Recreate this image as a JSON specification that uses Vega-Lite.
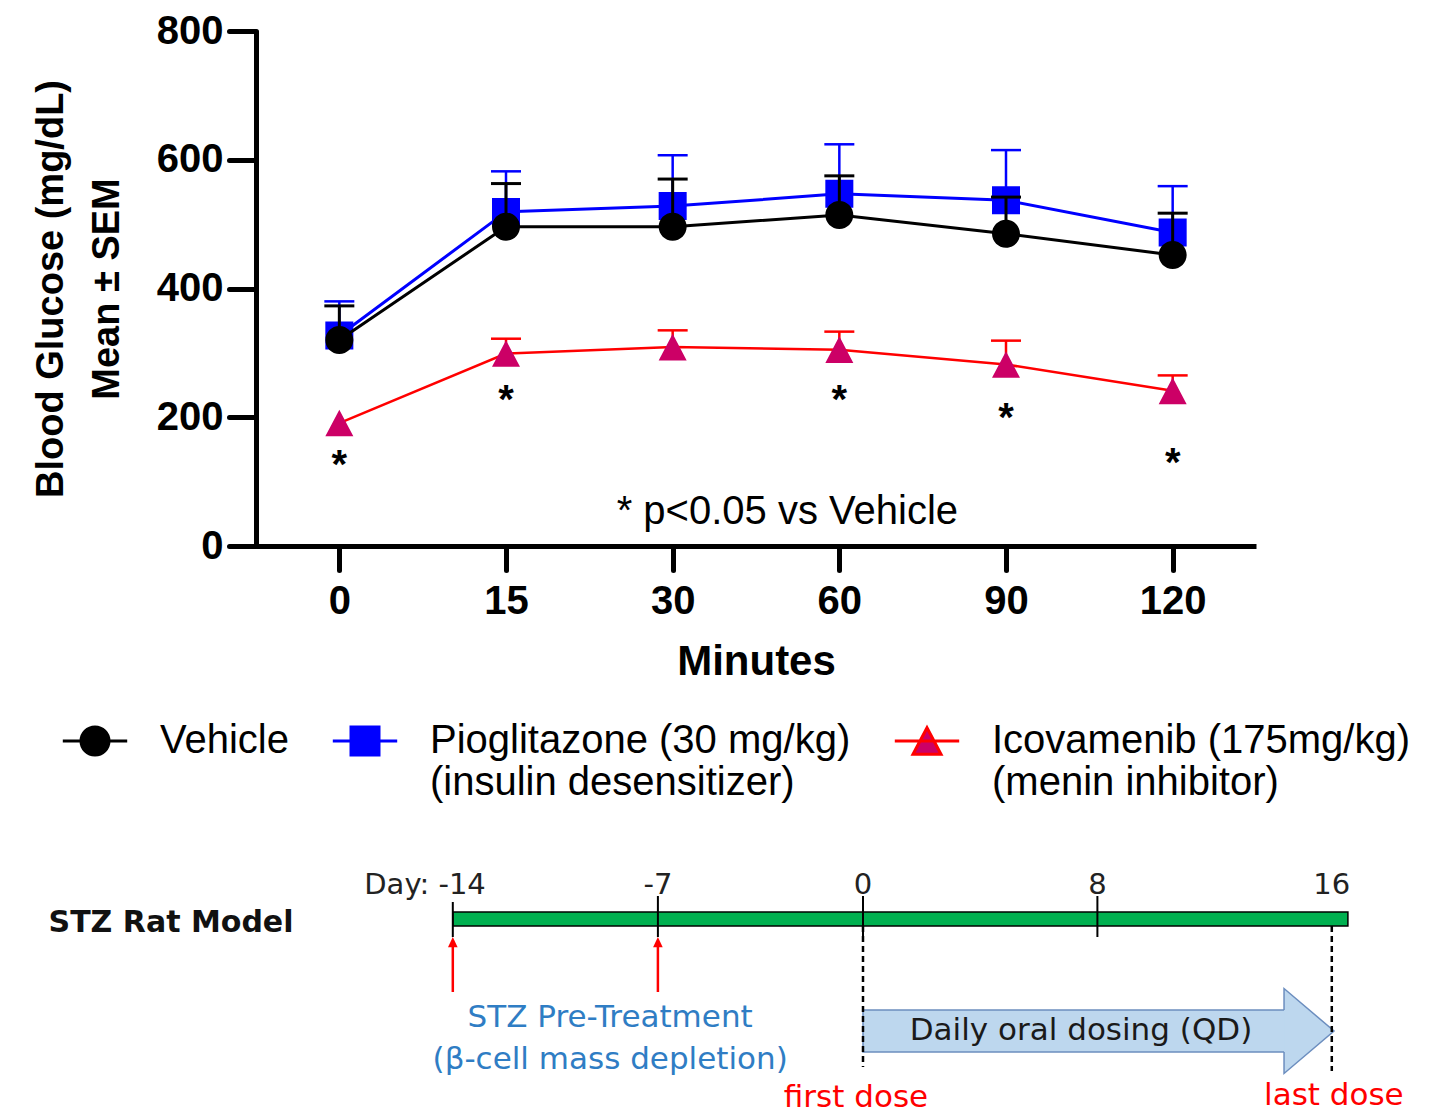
{
  "$schema": "https://vega.github.io/schema/vega-lite/v6.json",
  "padding": {"left": 32, "top": 11, "right": 0, "bottom": 0},
  "spacing": 186,
  "config": {
    "view": {"stroke": null},
    "font": "Liberation Sans",
    "axis": {"grid": false, "domainColor": "#000000", "tickColor": "#000000", "labelColor": "#000000", "titleColor": "#000000"},
    "axisX": {"labelAngle": 0, "tickSize": 24, "tickWidth": 5, "tickCap": "round", "domainWidth": 5, "labelFontSize": 40, "labelFontWeight": "bold", "labelPadding": 11, "titleFontSize": 42, "titleFontWeight": "bold", "titlePadding": 20},
    "axisY": {"tickCount": 5, "tickSize": 27, "tickWidth": 5, "tickCap": "round", "domainWidth": 5, "labelFontSize": 40, "labelFontWeight": "bold", "labelPadding": 6, "titleFontSize": 38, "titleFontWeight": "bold", "titleLineHeight": 56, "titlePadding": 30}
  },
  "datasets": {
    "glucose": [
      {"series": "Pioglitazone (30 mg/kg)", "minute": 0, "glucose": 327, "upper": 380},
      {"series": "Pioglitazone (30 mg/kg)", "minute": 15, "glucose": 519, "upper": 582},
      {"series": "Pioglitazone (30 mg/kg)", "minute": 30, "glucose": 528, "upper": 607},
      {"series": "Pioglitazone (30 mg/kg)", "minute": 60, "glucose": 547, "upper": 624},
      {"series": "Pioglitazone (30 mg/kg)", "minute": 90, "glucose": 537, "upper": 615},
      {"series": "Pioglitazone (30 mg/kg)", "minute": 120, "glucose": 487, "upper": 559},
      {"series": "Vehicle", "minute": 0, "glucose": 320, "upper": 373},
      {"series": "Vehicle", "minute": 15, "glucose": 496, "upper": 563},
      {"series": "Vehicle", "minute": 30, "glucose": 496, "upper": 570},
      {"series": "Vehicle", "minute": 60, "glucose": 514, "upper": 575},
      {"series": "Vehicle", "minute": 90, "glucose": 485, "upper": 542},
      {"series": "Vehicle", "minute": 120, "glucose": 452, "upper": 517},
      {"series": "Icovamenib (175mg/kg)", "minute": 0, "glucose": 191, "upper": 191},
      {"series": "Icovamenib (175mg/kg)", "minute": 15, "glucose": 299, "upper": 322},
      {"series": "Icovamenib (175mg/kg)", "minute": 30, "glucose": 309, "upper": 335},
      {"series": "Icovamenib (175mg/kg)", "minute": 60, "glucose": 305, "upper": 333},
      {"series": "Icovamenib (175mg/kg)", "minute": 90, "glucose": 282, "upper": 319},
      {"series": "Icovamenib (175mg/kg)", "minute": 120, "glucose": 241, "upper": 265}
    ],
    "notes": [
      {"kind": "star", "minute": 0, "glucose": 106, "label": "*"},
      {"kind": "star", "minute": 15, "glucose": 207, "label": "*"},
      {"kind": "star", "minute": 60, "glucose": 207, "label": "*"},
      {"kind": "star", "minute": 90, "glucose": 179, "label": "*"},
      {"kind": "star", "minute": 120, "glucose": 109, "label": "*"},
      {"kind": "note", "minute": 60, "glucose": 34, "label": "* p<0.05 vs Vehicle"}
    ],
    "timeline": [
      {"kind": "bar", "day": -14, "day2": 16.55, "lo": 4.4, "hi": 5.8},
      {"kind": "tick", "day": -14, "lo": 3.4, "hi": 6.9},
      {"kind": "tick", "day": -7, "lo": 2.8, "hi": 6.9},
      {"kind": "tick", "day": 0, "lo": 2.8, "hi": 6.9},
      {"kind": "tick", "day": 8, "lo": 2.8, "hi": 6.9},
      {"kind": "stz", "day": -14, "lo": 7.5, "hi": 12.4},
      {"kind": "stz", "day": -7, "lo": 7.5, "hi": 12.4},
      {"kind": "dosing", "day": 0, "day2": 14.45, "lo": 14.2, "hi": 18.4},
      {"kind": "head", "day": 14.37, "lo": 16.3},
      {"kind": "dose", "day": 0, "lo": 5.8, "hi": 19.9},
      {"kind": "dose", "day": 16, "lo": 5.8, "hi": 20.3},
      {"kind": "daylabel0", "day": -14, "lo": 1.7, "label": "Day: -14"},
      {"kind": "daylabel", "day": -7, "lo": 1.7, "label": "-7"},
      {"kind": "daylabel", "day": 0, "lo": 1.7, "label": "0"},
      {"kind": "daylabel", "day": 8, "lo": 1.7, "label": "8"},
      {"kind": "daylabel", "day": 16, "lo": 1.7, "label": "16"},
      {"kind": "stztext", "day": -8.63, "lo": 15.0, "label": "STZ Pre-Treatment"},
      {"kind": "stztext", "day": -8.63, "lo": 19.2, "label": "(β-cell mass depletion)"},
      {"kind": "qdtext", "day": 7.44, "lo": 16.3, "label": "Daily oral dosing (QD)"},
      {"kind": "dosetext", "day": -0.24, "lo": 23.0, "label": "first dose"},
      {"kind": "dosetext", "day": 16.07, "lo": 22.8, "label": "last dose"}
    ]
  },
  "vconcat": [
    {
      "width": 1000,
      "height": 515,
      "data": {"name": "glucose"},
      "encoding": {
        "x": {"field": "minute", "type": "ordinal", "sort": "ascending", "scale": {"type": "point", "padding": 0.5}, "title": "Minutes"},
        "y": {"field": "glucose", "type": "quantitative", "scale": {"domain": [0, 800], "nice": false}, "title": ["Blood Glucose (mg/dL)", "Mean ± SEM"]}
      },
      "layer": [
        {
          "transform": [{"filter": "datum.series === 'Pioglitazone (30 mg/kg)'"}],
          "layer": [
            {"transform": [{"filter": "datum.upper > datum.glucose"}], "mark": {"type": "rule", "color": "#0000FF", "strokeWidth": 2.5}, "encoding": {"y2": {"field": "upper"}}},
            {"transform": [{"filter": "datum.upper > datum.glucose"}], "mark": {"type": "tick", "color": "#0000FF", "thickness": 2.5, "size": 30, "opacity": 1}, "encoding": {"y": {"field": "upper", "type": "quantitative", "title": ["Blood Glucose (mg/dL)", "Mean ± SEM"]}}},
            {"mark": {"type": "line", "strokeWidth": 3}, "encoding": {"stroke": {"field": "series", "type": "nominal", "scale": {"domain": ["Vehicle", "Pioglitazone (30 mg/kg)", "Icovamenib (175mg/kg)"], "range": ["#000000", "#0000FF", "#FF0000"]}, "legend": {"title": null, "orient": "none", "legendX": -181, "legendY": 690, "direction": "horizontal", "symbolSize": 784, "symbolStrokeWidth": 3, "labelFontSize": 40, "labelLimit": 0, "labelOffset": 45, "columnPadding": 37, "padding": 0, "labelColor": "#000000", "labelExpr": "datum.label === 'Pioglitazone (30 mg/kg)' ? ['Pioglitazone (30 mg/kg)', '(insulin desensitizer)'] : datum.label === 'Icovamenib (175mg/kg)' ? ['Icovamenib (175mg/kg)', '(menin inhibitor)'] : [datum.label, ' ']"}}}},
            {"mark": {"type": "point", "filled": true, "opacity": 1, "strokeWidth": 0, "size": 784}, "encoding": {
              "fill": {"field": "series", "type": "nominal", "scale": {"domain": ["Vehicle", "Pioglitazone (30 mg/kg)", "Icovamenib (175mg/kg)"], "range": ["#000000", "#0000FF", "#CC0066"]}, "legend": {"title": null, "orient": "none", "legendX": -181, "legendY": 690, "direction": "horizontal", "symbolSize": 784, "symbolStrokeWidth": 3, "labelFontSize": 40, "labelLimit": 0, "labelOffset": 45, "columnPadding": 37, "padding": 0, "labelColor": "#000000", "labelExpr": "datum.label === 'Pioglitazone (30 mg/kg)' ? ['Pioglitazone (30 mg/kg)', '(insulin desensitizer)'] : datum.label === 'Icovamenib (175mg/kg)' ? ['Icovamenib (175mg/kg)', '(menin inhibitor)'] : [datum.label, ' ']"}},
              "shape": {"field": "series", "type": "nominal", "scale": {"domain": ["Vehicle", "Pioglitazone (30 mg/kg)", "Icovamenib (175mg/kg)"], "range": ["M-2.3,0H2.3M1,0A1,1,0,1,1,-1,0A1,1,0,1,1,1,0Z", "M-2.3,0H2.3M-1,-1H1V1H-1Z", "M-2.3,0H2.3M0,-0.95L1,0.95L-1,0.95Z"]}, "legend": {"title": null, "orient": "none", "legendX": -181, "legendY": 690, "direction": "horizontal", "symbolSize": 784, "symbolStrokeWidth": 3, "labelFontSize": 40, "labelLimit": 0, "labelOffset": 45, "columnPadding": 37, "padding": 0, "labelColor": "#000000", "labelExpr": "datum.label === 'Pioglitazone (30 mg/kg)' ? ['Pioglitazone (30 mg/kg)', '(insulin desensitizer)'] : datum.label === 'Icovamenib (175mg/kg)' ? ['Icovamenib (175mg/kg)', '(menin inhibitor)'] : [datum.label, ' ']"}}
            }}
          ]
        },
        {
          "transform": [{"filter": "datum.series === 'Vehicle'"}],
          "layer": [
            {"transform": [{"filter": "datum.upper > datum.glucose"}], "mark": {"type": "rule", "color": "#000000", "strokeWidth": 3}, "encoding": {"y2": {"field": "upper"}}},
            {"transform": [{"filter": "datum.upper > datum.glucose"}], "mark": {"type": "tick", "color": "#000000", "thickness": 3, "size": 30, "opacity": 1}, "encoding": {"y": {"field": "upper", "type": "quantitative", "title": ["Blood Glucose (mg/dL)", "Mean ± SEM"]}}},
            {"mark": {"type": "line", "strokeWidth": 3}, "encoding": {"stroke": {"field": "series", "type": "nominal"}}},
            {"mark": {"type": "point", "filled": true, "opacity": 1, "strokeWidth": 0, "size": 784}, "encoding": {"fill": {"field": "series", "type": "nominal"}, "shape": {"field": "series", "type": "nominal"}}}
          ]
        },
        {
          "transform": [{"filter": "datum.series === 'Icovamenib (175mg/kg)'"}],
          "layer": [
            {"transform": [{"filter": "datum.upper > datum.glucose"}], "mark": {"type": "rule", "color": "#FF0000", "strokeWidth": 2.5}, "encoding": {"y2": {"field": "upper"}}},
            {"transform": [{"filter": "datum.upper > datum.glucose"}], "mark": {"type": "tick", "color": "#FF0000", "thickness": 2.5, "size": 30, "opacity": 1}, "encoding": {"y": {"field": "upper", "type": "quantitative", "title": ["Blood Glucose (mg/dL)", "Mean ± SEM"]}}},
            {"mark": {"type": "line", "strokeWidth": 2.5}, "encoding": {"stroke": {"field": "series", "type": "nominal"}}},
            {"mark": {"type": "point", "filled": true, "opacity": 1, "strokeWidth": 0, "size": 784}, "encoding": {"fill": {"field": "series", "type": "nominal"}, "shape": {"field": "series", "type": "nominal"}}}
          ]
        },
        {
          "data": {"name": "notes"},
          "transform": [{"filter": "datum.kind === 'star'"}],
          "mark": {"type": "text", "fontSize": 40, "fontWeight": "bold", "baseline": "alphabetic", "align": "center", "color": "#000000"},
          "encoding": {"text": {"field": "label"}}
        },
        {
          "data": {"name": "notes"},
          "transform": [{"filter": "datum.kind === 'note'"}],
          "mark": {"type": "text", "fontSize": 40, "baseline": "alphabetic", "align": "center", "dx": -52, "color": "#000000"},
          "encoding": {"text": {"field": "label"}}
        }
      ]
    },
    {
      "width": 1190,
      "height": 250,
      "data": {"name": "timeline"},
      "encoding": {
        "x": {"field": "day", "type": "quantitative", "scale": {"domain": [-20.717, 19.898], "nice": false, "zero": false}, "axis": null},
        "y": {"field": "lo", "type": "quantitative", "scale": {"domain": [0, 25], "reverse": true, "nice": false, "zero": false}, "title": null,
              "axis": {"values": [5.4], "labelExpr": "'STZ Rat Model'", "domain": false, "ticks": false, "tickSize": 0, "labelPadding": -37, "labelLimit": 0, "labelFont": "DejaVu Sans", "labelFontSize": 30, "labelFontWeight": "bold", "title": null, "grid": false, "labelColor": "#111111"}}
      },
      "layer": [
        {"transform": [{"filter": "datum.kind === 'bar'"}], "mark": {"type": "rect", "fill": "#00B050", "stroke": "#000000", "strokeWidth": 1.5}, "encoding": {"x2": {"field": "day2"}, "y2": {"field": "hi"}}},
        {"transform": [{"filter": "datum.kind === 'tick'"}], "mark": {"type": "rule", "color": "#000000", "strokeWidth": 2}, "encoding": {"y2": {"field": "hi"}}},
        {"transform": [{"filter": "datum.kind === 'stz'"}], "mark": {"type": "rule", "color": "#FF0000", "strokeWidth": 2.5}, "encoding": {"y2": {"field": "hi"}}},
        {"transform": [{"filter": "datum.kind === 'stz'"}], "mark": {"type": "point", "shape": "M0,-1L0.8,0.7L-0.8,0.7Z", "size": 144, "filled": true, "fill": "#FF0000", "strokeWidth": 0, "opacity": 1}},
        {"transform": [{"filter": "datum.kind === 'dosing'"}], "mark": {"type": "rect", "fill": "#BDD7EE", "stroke": "#6C8EBF", "strokeWidth": 1.5}, "encoding": {"x2": {"field": "day2"}, "y2": {"field": "hi"}}},
        {"transform": [{"filter": "datum.kind === 'head'"}], "mark": {"type": "point", "shape": "M0,-0.494L0,-1L1.176,0L0,1L0,0.494", "size": 7225, "filled": true, "fill": "#BDD7EE", "stroke": "#6C8EBF", "strokeWidth": 1.5, "opacity": 1}},
        {"transform": [{"filter": "datum.kind === 'qdtext'"}], "mark": {"type": "text", "font": "DejaVu Sans", "fontSize": 31, "color": "#1A1A1A", "align": "center", "baseline": "middle"}, "encoding": {"text": {"field": "label"}}},
        {"transform": [{"filter": "datum.kind === 'dose'"}], "mark": {"type": "rule", "color": "#000000", "strokeWidth": 2.5, "strokeDash": [6, 4]}, "encoding": {"y2": {"field": "hi"}}},
        {"transform": [{"filter": "datum.kind === 'daylabel0'"}], "mark": {"type": "text", "font": "DejaVu Sans", "fontSize": 29, "color": "#222222", "align": "right", "baseline": "middle", "dx": 33}, "encoding": {"text": {"field": "label"}}},
        {"transform": [{"filter": "datum.kind === 'daylabel'"}], "mark": {"type": "text", "font": "DejaVu Sans", "fontSize": 29, "color": "#222222", "align": "center", "baseline": "middle"}, "encoding": {"text": {"field": "label"}}},
        {"transform": [{"filter": "datum.kind === 'stztext'"}], "mark": {"type": "text", "font": "DejaVu Sans", "fontSize": 31, "color": "#2F7DC4", "align": "center", "baseline": "middle"}, "encoding": {"text": {"field": "label"}}},
        {"transform": [{"filter": "datum.kind === 'dosetext'"}], "mark": {"type": "text", "font": "DejaVu Sans", "fontSize": 31, "color": "#FF0000", "align": "center", "baseline": "middle"}, "encoding": {"text": {"field": "label"}}}
      ]
    }
  ]
}
